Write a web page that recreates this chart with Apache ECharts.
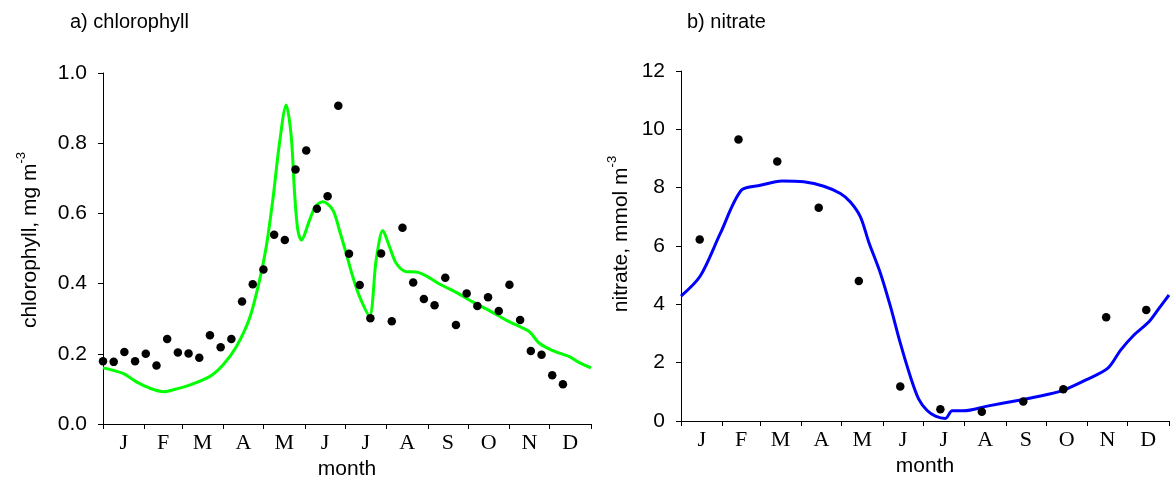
<!DOCTYPE html>
<html>
<head>
<meta charset="utf-8">
<script src="https://cdn.jsdelivr.net/npm/echarts@6/dist/echarts.min.js"></script>
<style>
html,body{margin:0;padding:0;background:#fff;}
#chart{width:1173px;height:489px;}
</style>
</head>
<body>
<div id="chart"></div>
<script>
// month tick boundaries (day of year) and month labels
var monthBounds = [0, 31, 59, 90, 120, 151, 181, 212, 243, 273, 304, 334, 365];
var monthLetters = ['J', 'F', 'M', 'A', 'M', 'J', 'J', 'A', 'S', 'O', 'N', 'D'];

// a) chlorophyll observations (day of year, mg m-3)
var chlObsDays = [0, 8, 16, 24, 32, 40, 48, 56, 64, 72, 80, 88, 96, 104, 112, 120, 128, 136, 144, 152, 160, 168, 176,
  184, 192, 200, 208, 216, 224, 232, 240, 248, 256, 264, 272, 280, 288, 296, 304, 312, 320, 328, 336, 344];
var chlObsValues = [0.179, 0.177, 0.205, 0.179, 0.200, 0.167, 0.242, 0.204, 0.201, 0.189, 0.253, 0.219, 0.242, 0.349,
  0.398, 0.440, 0.539, 0.524, 0.725, 0.779, 0.613, 0.649, 0.907, 0.485, 0.396, 0.301, 0.486, 0.293, 0.559, 0.403,
  0.356, 0.338, 0.417, 0.282, 0.372, 0.336, 0.361, 0.322, 0.397, 0.296, 0.208, 0.197, 0.139, 0.113];

// a) chlorophyll model line
var chlModelDays = [0, 15, 25, 35, 45.4, 55, 64.8, 79.7, 89.7, 99.7, 109.6, 117.1, 122.1, 127, 132, 137, 140.8, 143.3,
  145.7, 148.3, 154.5, 159, 164.4, 171.9, 177, 181.9, 186.8, 191.9, 199.3, 204.3, 209.3, 214.3, 219.3, 226.8, 234.2,
  241.7, 251.6, 264.1, 276.5, 289, 301.5, 313, 318.9, 326.4, 336.3, 348.8, 356.3, 365];
var chlModelValues = [0.160, 0.144, 0.120, 0.102, 0.092, 0.100, 0.111, 0.135, 0.168, 0.220, 0.301, 0.410, 0.505, 0.638,
  0.800, 0.909, 0.819, 0.657, 0.553, 0.524, 0.581, 0.620, 0.633, 0.610, 0.550, 0.486, 0.420, 0.363, 0.308, 0.467,
  0.551, 0.505, 0.458, 0.434, 0.433, 0.422, 0.399, 0.375, 0.348, 0.323, 0.296, 0.275, 0.263, 0.230, 0.209, 0.192,
  0.175, 0.160];

// b) nitrate observations (day of year, mmol m-3)
var no3ObsDays = [14, 43, 72, 103, 133, 164, 194, 225, 256, 286, 318, 348];
var no3ObsValues = [6.22, 9.65, 8.90, 7.31, 4.80, 1.18, 0.40, 0.32, 0.67, 1.09, 3.56, 3.81];

// b) nitrate model line
var no3ModelDays = [0, 14.4, 29.4, 45.1, 59.3, 75.6, 91.8, 106.8, 119.2, 126.7, 134.2, 140.4, 149.2, 156.7, 164.1,
  171.6, 177.8, 184.1, 190.3, 197.8, 202.8, 211.5, 229, 253.9, 273.9, 286.4, 303.9, 319.3, 328.8, 338.8, 350, 357.5, 365];
var no3ModelValues = [4.28, 4.97, 6.43, 7.91, 8.08, 8.23, 8.20, 8.05, 7.80, 7.51, 7.00, 6.14, 5.06, 3.92, 2.66,
  1.52, 0.75, 0.36, 0.17, 0.09, 0.35, 0.35, 0.51, 0.72, 0.91, 1.06, 1.43, 1.81, 2.43, 2.95, 3.40, 3.86, 4.32];

function pairs(xs, ys) { return xs.map(function (x, i) { return [x, ys[i]]; }); }

var monthMids = [];
var midLetter = {};
for (var i = 0; i < 12; i++) {
  var m = (monthBounds[i] + monthBounds[i + 1]) / 2;
  monthMids.push(m);
  midLetter[Math.round(m * 2)] = monthLetters[i];
}

var sans = 'Liberation Sans, Arial, sans-serif';
var serif = 'Liberation Serif, Times New Roman, serif';

function xAxisDef(gridIndex) {
  return {
    type: 'value', gridIndex: gridIndex, min: 0, max: 365,
    axisLine: { show: true, onZero: false, lineStyle: { color: '#000', width: 1 } },
    axisTick: { show: true, customValues: monthBounds, length: 5, inside: false, lineStyle: { color: '#000' } },
    axisLabel: {
      show: true, customValues: monthMids, margin: 8,
      fontFamily: serif, fontSize: 22, color: '#000',
      formatter: function (v) { return midLetter[Math.round(v * 2)] || ''; }
    },
    splitLine: { show: false },
    name: 'month', nameLocation: 'middle', nameGap: 33,
    nameTextStyle: { fontFamily: sans, fontSize: 21, color: '#000' }
  };
}

function yAxisDef(gridIndex, max, interval, decimals, margin) {
  return {
    type: 'value', gridIndex: gridIndex, min: 0, max: max, interval: interval,
    axisLine: { show: true, lineStyle: { color: '#000', width: 1 } },
    axisTick: { show: true, length: 5, inside: false, lineStyle: { color: '#000' } },
    axisLabel: {
      margin: margin, fontFamily: sans, fontSize: 21, color: '#000',
      formatter: function (v) { return v.toFixed(decimals); }
    },
    splitLine: { show: false }
  };
}

var chart = echarts.init(document.getElementById('chart'), null, { renderer: 'canvas' });
chart.setOption({
  backgroundColor: '#fff',
  animation: false,
  title: [
    { text: 'a) chlorophyll', left: 70, top: 12, padding: 0,
      textStyle: { fontFamily: sans, fontSize: 20, fontWeight: 'normal', color: '#000' } },
    { text: 'b) nitrate', left: 687, top: 12, padding: 0,
      textStyle: { fontFamily: sans, fontSize: 20, fontWeight: 'normal', color: '#000' } }
  ],
  grid: [
    { left: 103, top: 73, width: 488, height: 351, containLabel: false },
    { left: 681, top: 71, width: 488, height: 350, containLabel: false }
  ],
  xAxis: [xAxisDef(0), xAxisDef(1)],
  yAxis: [yAxisDef(0, 1.0, 0.2, 1, 16), yAxisDef(1, 12, 2, 0, 16)],
  graphic: [
    {
      type: 'text', x: 28, y: 240, rotation: Math.PI / 2,
      style: {
        text: '{a|chlorophyll, mg m}{s|-3}',
        align: 'center', verticalAlign: 'middle',
        rich: {
          a: { fontFamily: sans, fontSize: 21, fill: '#000', lineHeight: 26, verticalAlign: 'bottom' },
          s: { fontFamily: sans, fontSize: 13, fill: '#000', lineHeight: 26, verticalAlign: 'top' }
        }
      }
    },
    {
      type: 'text', x: 619, y: 234, rotation: Math.PI / 2,
      style: {
        text: '{a|nitrate, mmol m}{s|-3}',
        align: 'center', verticalAlign: 'middle',
        rich: {
          a: { fontFamily: sans, fontSize: 21, fill: '#000', lineHeight: 26, verticalAlign: 'bottom' },
          s: { fontFamily: sans, fontSize: 13, fill: '#000', lineHeight: 26, verticalAlign: 'top' }
        }
      }
    }
  ],
  series: [
    {
      type: 'line', xAxisIndex: 0, yAxisIndex: 0, data: pairs(chlModelDays, chlModelValues),
      showSymbol: false, smooth: 0.3, lineStyle: { color: '#00ff00', width: 3 }, z: 2
    },
    {
      type: 'scatter', xAxisIndex: 0, yAxisIndex: 0, data: pairs(chlObsDays, chlObsValues),
      symbol: 'circle', symbolSize: 8.5, itemStyle: { color: '#000', opacity: 1 }, z: 3
    },
    {
      type: 'line', xAxisIndex: 1, yAxisIndex: 1, data: pairs(no3ModelDays, no3ModelValues),
      showSymbol: false, smooth: 0.3, lineStyle: { color: '#0000ff', width: 3 }, z: 2
    },
    {
      type: 'scatter', xAxisIndex: 1, yAxisIndex: 1, data: pairs(no3ObsDays, no3ObsValues),
      symbol: 'circle', symbolSize: 8.5, itemStyle: { color: '#000', opacity: 1 }, z: 3
    }
  ]
});
</script>
</body>
</html>
